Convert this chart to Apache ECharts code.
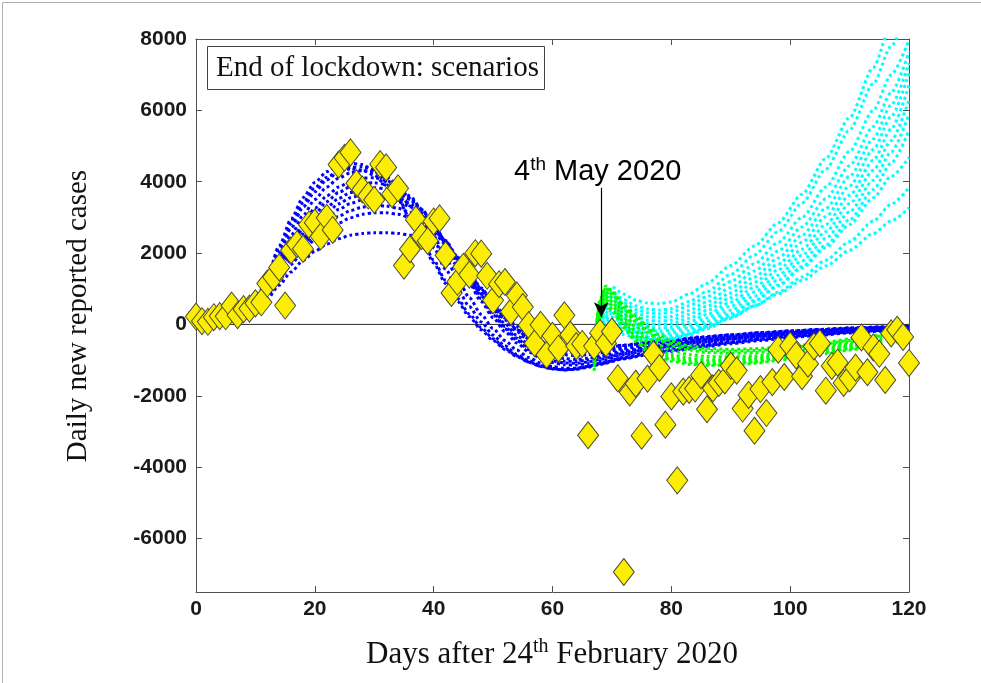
<!DOCTYPE html>
<html><head><meta charset="utf-8">
<script src="https://cdn.jsdelivr.net/npm/echarts@6/dist/echarts.min.js"></script>
<style>html,body{margin:0;padding:0;background:#fff}#c{width:981px;height:683px}</style>
</head><body><div id="c"></div>
<script>
// ---- data ----
// daily new reported cases, day 0 .. 120 (index = day)
const dailyCases = [221,90,74,203,233,228,528,258,428,443,
590,620,1145,1326,1598,529,2076,2249,2116,2795,
2853,2470,2989,2648,4480,4670,4821,3957,3780,3612,
3491,4492,4401,3651,3815,1648,2107,2937,2477,2339,
2886,2972,1941,880,1195,1615,1396,1996,1984,1363,
675,1127,1189,355,809,486,-20,-528,-10,-851,
-321,-680,256,-290,-608,-548,-3106,-608,-239,-525,
-199,-1513,-6939,-1904,-1663,-3119,-1518,-836,-1222,-2809,
-2017,-4370,-1883,-1836,-1798,-1424,-2377,-1792,-1638,-1570,
-1158,-1294,-2358,-1976,-2980,-1811,-2484,-1616,-708,-1474,
-596,-868,-1453,-1099,-615,-532,-1858,-1162,-1073,-1640,
-1512,-1211,-365,-1340,-644,-824,-1558,-250,-150,-350,-1080];

// blue model fits (lockdown)
const blueDays = [8,10,12,14,16,18,20,22,24,26,28,30,32,34,36,38,40,42,44,46,48,50,52,54,56,58,60,62,64,66,68,72,76,80,85,90,95,100,105,110,115,120];
const blue1 = [300,650,1350,2200,2950,3550,3980,4280,4450,4520,4480,4300,4000,3550,2980,2350,1720,1150,650,220,-150,-450,-700,-900,-1060,-1180,-1250,-1280,-1250,-1180,-1100,-960,-850,-750,-640,-540,-450,-370,-300,-240,-190,-150];
const blue2 = [280,600,1250,2000,2700,3280,3720,4050,4280,4400,4420,4330,4120,3780,3320,2760,2150,1550,1000,500,70,-300,-600,-840,-1020,-1150,-1230,-1270,-1260,-1200,-1120,-960,-830,-720,-600,-500,-410,-330,-270,-210,-170,-130];
const blue3 = [260,560,1150,1850,2500,3050,3500,3850,4100,4250,4310,4280,4150,3900,3530,3050,2480,1880,1290,750,280,-120,-450,-720,-930,-1080,-1180,-1230,-1230,-1180,-1100,-920,-780,-670,-550,-450,-370,-300,-240,-190,-150,-110];
const blue4 = [240,520,1050,1700,2300,2820,3250,3600,3850,4010,4100,4110,4040,3870,3600,3230,2770,2250,1700,1150,640,190,-200,-520,-770,-950,-1070,-1130,-1140,-1100,-1030,-860,-720,-610,-500,-410,-330,-270,-210,-160,-120,-90];
const blue5 = [230,480,950,1520,2060,2540,2950,3280,3530,3700,3800,3830,3800,3700,3500,3200,2800,2330,1820,1300,800,340,-60,-390,-650,-840,-960,-1030,-1040,-1000,-940,-780,-650,-550,-450,-370,-300,-240,-190,-140,-100,-70];
const blue6 = [220,450,880,1380,1870,2300,2670,2980,3220,3390,3490,3530,3520,3450,3300,3060,2740,2350,1900,1420,950,520,130,-200,-460,-650,-780,-850,-870,-850,-800,-680,-570,-480,-390,-310,-250,-200,-150,-110,-80,-60];
const blue7 = [200,420,800,1250,1680,2060,2380,2640,2840,2990,3090,3130,3130,3090,2990,2820,2570,2250,1870,1450,1020,620,260,-50,-300,-480,-600,-670,-700,-690,-660,-580,-500,-430,-350,-290,-230,-180,-140,-100,-75,-55];
const blue8 = [180,380,720,1100,1470,1790,2050,2250,2400,2500,2550,2570,2570,2550,2500,2410,2270,2000,1650,1250,850,480,150,-140,-360,-520,-620,-680,-700,-690,-660,-590,-520,-450,-370,-300,-240,-190,-150,-110,-80,-55];
const blue9 = [290,620,1300,2100,2820,3400,3830,4120,4300,4360,4330,4180,3900,3500,2980,2400,1800,1230,730,290,-90,-400,-670,-880,-1050,-1170,-1240,-1270,-1240,-1170,-1090,-940,-820,-720,-610,-510,-420,-340,-280,-220,-170,-130];
const blue10 = [235,500,1000,1600,2180,2680,3100,3440,3700,3860,3950,3970,3920,3790,3560,3220,2790,2290,1760,1220,720,270,-120,-450,-710,-900,-1020,-1080,-1090,-1050,-980,-820,-690,-580,-470,-390,-320,-260,-200,-150,-110,-80];
const blue11 = [225,465,910,1450,1960,2420,2810,3130,3380,3550,3640,3670,3640,3560,3390,3120,2760,2330,1850,1350,870,420,20,-310,-570,-760,-890,-960,-980,-950,-890,-740,-620,-520,-430,-350,-280,-230,-180,-130,-95,-65];
const blue12 = [210,435,840,1310,1770,2180,2530,2810,3030,3190,3290,3330,3320,3260,3140,2940,2660,2300,1890,1440,990,560,180,-140,-400,-580,-700,-770,-790,-780,-740,-640,-540,-460,-370,-300,-240,-190,-145,-105,-78,-57];

// green scenarios
const greenDays = [67,68,69,70,72,74,76,78,80,83,86,90,94,98,102,106,110,113,115.5];
const green1 = [-600,700,1080,950,550,250,-50,-300,-470,-600,-670,-700,-680,-640,-580,-500,-410,-340,-280];
const green2 = [-800,600,1000,850,420,80,-220,-450,-600,-720,-790,-810,-790,-740,-670,-590,-500,-420,-350];
const green3 = [-900,500,900,750,300,-60,-370,-590,-730,-850,-900,-910,-880,-820,-740,-650,-550,-470,-400];
const green4 = [-1000,400,800,640,180,-200,-510,-710,-840,-950,-990,-990,-950,-880,-800,-700,-600,-520,-450];
const green5 = [-1100,300,700,540,70,-330,-620,-800,-920,-1020,-1060,-1050,-1000,-930,-840,-740,-640,-560,-490];
const green6 = [-1200,200,600,440,-30,-420,-700,-870,-980,-1080,-1110,-1100,-1050,-970,-880,-780,-680,-600,-530];
const green7 = [-700,650,1040,900,480,160,-140,-380,-540,-660,-730,-750,-730,-690,-620,-540,-450,-380,-310];
const green8 = [-1300,150,550,380,-90,-480,-760,-920,-1030,-1120,-1150,-1140,-1090,-1010,-920,-820,-720,-640,-570];

// cyan scenarios
const cyanDays = [68,70,72,74,76,78,80,83,86,90,94,98,102,106,110,114,117,120];
const cyan1 = [500,1050,850,680,600,580,630,850,1150,1650,2200,2850,3650,4650,5800,7200,8400,9600];
const cyan2 = [400,900,700,520,430,400,440,640,920,1400,1950,2600,3400,4350,5450,6750,7800,8900];
const cyan3 = [300,800,600,420,330,300,340,520,780,1200,1700,2300,3000,3850,4850,6000,7000,7970];
const cyan4 = [200,700,500,320,220,190,220,390,630,1030,1500,2060,2730,3520,4450,5550,6500,7630];
const cyan5 = [100,600,400,220,120,90,120,280,510,880,1330,1860,2500,3250,4150,5200,6150,7320];
const cyan6 = [0,500,300,120,20,-10,20,170,390,750,1180,1690,2300,3020,3880,4900,5830,7040];
const cyan7 = [-100,400,200,20,-80,-110,-80,70,280,620,1040,1530,2110,2800,3620,4600,5480,6700];
const cyan8 = [-150,300,120,-60,-160,-190,-160,-20,180,510,910,1380,1940,2600,3380,4320,5150,6300];
const cyan9 = [-200,200,40,-140,-240,-270,-240,-100,90,400,790,1240,1780,2410,3150,4040,4830,5900];
const cyan10 = [-250,100,-40,-210,-310,-340,-310,-180,0,300,670,1100,1620,2220,2930,3780,4520,5440];
const cyan11 = [-300,0,-120,-280,-370,-400,-380,-260,-60,250,640,1080,1580,2150,2800,3550,4150,4680];
const cyan12 = [-350,-100,-200,-340,-420,-450,-420,-300,-120,170,520,900,1330,1800,2320,2900,3370,3830];
const cyan13 = [-400,-200,-280,-370,-420,-440,-400,-270,-80,200,520,860,1230,1640,2080,2550,2900,3270];

// axes
const xMin = 0, xMax = 120, xStep = 20;
const yMin = -7500, yMax = 8000;
const yTickValues = [-6000,-4000,-2000,0,2000,4000,6000,8000];

// annotation (4th May 2020 arrow, in data units)
const arrowDay = 68.2, arrowFrom = 3830, arrowTo = 200;

// ---- chart ----
const chart = echarts.init(document.getElementById('c'), null, {renderer:'canvas', width:981, height:683});
const FRAME = '#505050';
const SANS = '"Liberation Sans", Arial, sans-serif';
const SERIF = '"Liberation Serif", "Times New Roman", serif';

function curve(xs, ys, color, z) {
  return {type:'line', data: xs.map((x,i)=>[x, ys[i]]), symbol:'none', showSymbol:false,
    smooth:0.25, smoothMonotone:'x', lineStyle:{color:color, width:3, type:[3,3]},
    z:z, silent:true, animation:false};
}
const series = [];
series.push({type:'line', data:[[xMin,0],[xMax,0]], symbol:'none', lineStyle:{color:'#2a2a2a', width:1}, z:1, silent:true, animation:false});
[blue1,blue9,blue2,blue3,blue10,blue4,blue5,blue11,blue6,blue12,blue7,blue8].forEach(b=>series.push(curve(blueDays,b,'#0000ff',2)));
[cyan1,cyan2,cyan3,cyan4,cyan5,cyan6,cyan7,cyan8,cyan9,cyan10,cyan11,cyan12,cyan13].forEach(c=>series.push(curve(cyanDays,c,'#00ffff',3)));
[green1,green7,green2,green3,green4,green5,green6,green8].forEach(g=>series.push(curve(greenDays,g,'#00ff00',4)));
series.push({type:'scatter', data: dailyCases.map((v,i)=>[i,v]), symbol:'diamond', symbolSize:[21,27], clip:false,
  itemStyle:{color:'#fcee00', borderColor:'#4a4a30', borderWidth:1, opacity:1}, z:5, silent:true, animation:false});
series.push({type:'line', data:[], z:6, silent:true, animation:false,
  markLine:{silent:true, animation:false, symbol:['none','arrow'], symbolSize:[11,15],
    lineStyle:{color:'#000', width:1.2, type:'solid'}, label:{show:false},
    data:[[{coord:[arrowDay, arrowFrom]},{coord:[arrowDay, arrowTo]}]]}});

const axisCommon = {axisLine:{show:true, onZero:false, lineStyle:{color:FRAME, width:1}}, splitLine:{show:false}};
const plain = v => String(v);
const option = {
  animation:false,
  backgroundColor:'#ffffff',
  grid:{left:196, right:72, top:39, bottom:91, containLabel:false},
  xAxis:[
    Object.assign({type:'value', min:xMin, max:xMax, interval:xStep, position:'bottom',
      axisTick:{inside:true, length:6, lineStyle:{color:FRAME}},
      axisLabel:{formatter:plain, fontFamily:SANS, fontWeight:'bold', fontSize:21, color:'#1a1a1a', margin:7}}, axisCommon),
    Object.assign({type:'value', min:xMin, max:xMax, interval:xStep, position:'top',
      axisTick:{inside:true, length:6, lineStyle:{color:FRAME}}, axisLabel:{show:false}}, axisCommon)
  ],
  yAxis:[
    Object.assign({type:'value', min:yMin, max:yMax, position:'left',
      axisTick:{inside:true, length:6, customValues:yTickValues, lineStyle:{color:FRAME}},
      axisLabel:{customValues:yTickValues, formatter:plain, fontFamily:SANS, fontWeight:'bold', fontSize:21, color:'#1a1a1a', margin:9}}, axisCommon),
    Object.assign({type:'value', min:yMin, max:yMax, position:'right',
      axisTick:{inside:true, length:6, customValues:yTickValues, lineStyle:{color:FRAME}},
      axisLabel:{show:false, customValues:yTickValues}}, axisCommon)
  ],
  series: series,
  graphic:[
    {type:'rect', left:0, top:0, shape:{x:0.5,y:0.5,width:979,height:681}, style:{fill:'none', stroke:'#b0b0b0', lineWidth:1}, silent:true, z:0},
    {type:'rect', shape:{x:207.5,y:46.5,width:337,height:43}, style:{fill:'#fff', stroke:'#404040', lineWidth:1}, z:10, silent:true},
    {type:'text', x:216, y:68, z:11, silent:true, style:{text:'End of lockdown: scenarios', fontFamily:SERIF, fontSize:29, fill:'#111', align:'left', verticalAlign:'middle'}},
    {type:'text', x:552, y:655, z:11, silent:true, style:{
      text:'{a|Days after 24}{s|th}{a| February 2020}', align:'center', verticalAlign:'middle', fill:'#111',
      rich:{a:{fontFamily:SERIF, fontSize:31, lineHeight:36, verticalAlign:'middle', fill:'#111'},
            s:{fontFamily:SERIF, fontSize:20, lineHeight:24, verticalAlign:'top', fill:'#111'}}}},
    {type:'text', x:78, y:316, rotation:Math.PI/2, z:11, silent:true, style:{text:'Daily new reported cases', fontFamily:SERIF, fontSize:29, fill:'#111', align:'center', verticalAlign:'middle'}},
    {type:'text', x:514, y:172, z:11, silent:true, style:{
      text:'{a|4}{s|th}{a| May 2020}', align:'left', verticalAlign:'middle', fill:'#000',
      rich:{a:{fontFamily:SANS, fontSize:29, lineHeight:34, verticalAlign:'middle', fill:'#000'},
            s:{fontFamily:SANS, fontSize:19, lineHeight:22, verticalAlign:'top', fill:'#000'}}}}
  ]
};
chart.setOption(option);
</script>
</body></html>
